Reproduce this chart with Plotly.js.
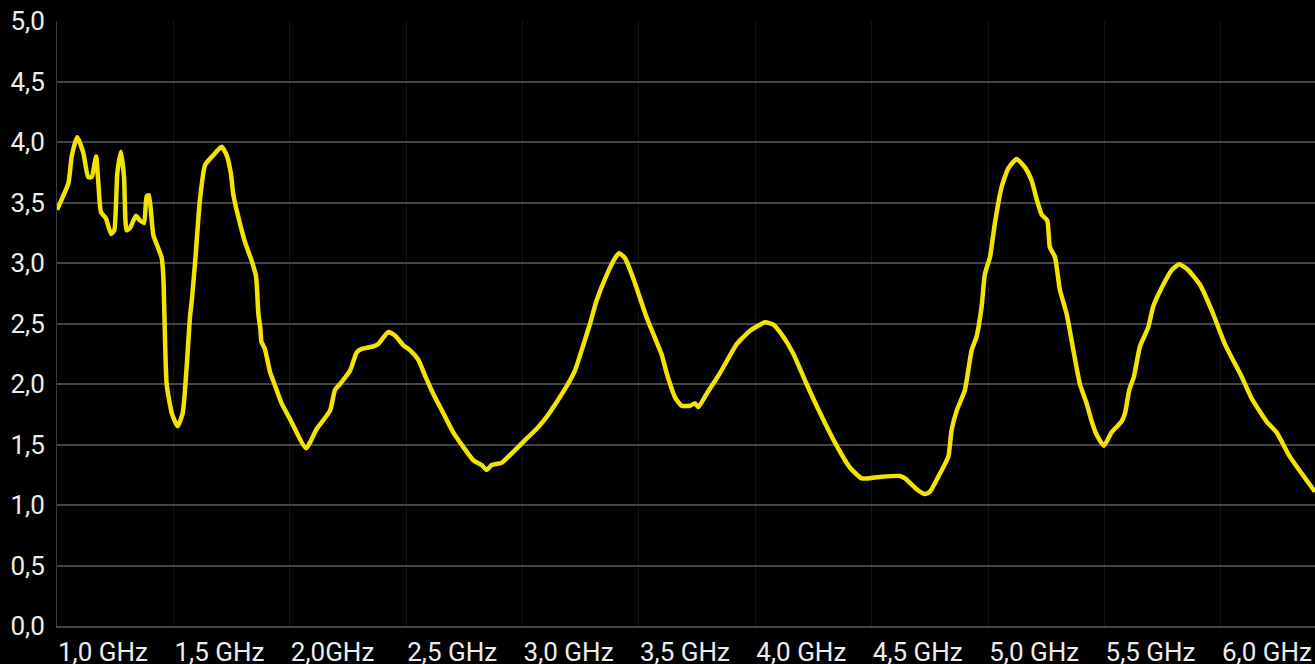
<!DOCTYPE html>
<html>
<head>
<meta charset="utf-8">
<script src="https://cdn.plot.ly/plotly-3.0.1.min.js"></script>
<style>
html,body{margin:0;padding:0;background:#000;}
#chart{width:1315px;height:664px;}
</style>
</head>
<body>
<div id="chart"></div>
<script>
// Frequency (GHz) and measured value
const freqGHz = [
1.000,1.049,1.063,1.087,1.113,1.134,1.149,1.168,1.177,1.189,1.210,1.232,1.246,1.259,1.275,1.288,1.299,1.314,1.339,1.357,1.374,1.385,1.395,1.407,1.414,1.450,1.457,1.471,1.493,1.518,1.540,1.557,1.571,1.579,1.593,1.614,1.636,1.671,1.707,1.729,1.747,1.757,1.779,1.808,1.836,1.855,1.865,1.874,1.878,1.893,1.915,1.936,1.965,2.001,2.070,2.116,2.173,2.194,2.216,2.259,2.287,2.309,2.359,2.380,2.423,2.452,2.488,2.516,2.552,2.581,2.616,2.659,2.702,2.745,2.788,2.824,2.846,2.867,2.910,2.960,3.018,3.061,3.104,3.146,3.189,3.225,3.254,3.290,3.318,3.361,3.397,3.415,3.440,3.476,3.533,3.598,3.619,3.655,3.683,3.719,3.741,3.755,3.791,3.848,3.920,3.977,4.041,4.077,4.120,4.163,4.220,4.278,4.349,4.406,4.457,4.521,4.621,4.643,4.693,4.729,4.750,4.793,4.829,4.843,4.865,4.900,4.929,4.950,4.972,4.986,5.008,5.029,5.058,5.086,5.122,5.158,5.187,5.208,5.230,5.254,5.265,5.287,5.308,5.337,5.366,5.394,5.423,5.445,5.466,5.497,5.530,5.573,5.588,5.606,5.626,5.652,5.688,5.709,5.752,5.788,5.821,5.860,5.910,5.960,6.017,6.089,6.132,6.196,6.239,6.296,6.404
];
const values = [
3.44,3.66,3.88,4.04,3.91,3.71,3.71,3.88,3.68,3.42,3.37,3.24,3.27,3.74,3.92,3.71,3.27,3.29,3.39,3.35,3.33,3.55,3.56,3.35,3.23,3.04,2.88,2.00,1.76,1.65,1.76,2.14,2.55,2.69,3.00,3.52,3.81,3.89,3.96,3.89,3.74,3.57,3.38,3.17,3.02,2.89,2.58,2.45,2.35,2.29,2.10,1.99,1.84,1.71,1.47,1.63,1.78,1.95,2.00,2.11,2.26,2.29,2.31,2.33,2.43,2.40,2.32,2.28,2.20,2.07,1.92,1.76,1.60,1.48,1.37,1.33,1.29,1.33,1.35,1.44,1.55,1.63,1.73,1.85,1.98,2.11,2.28,2.50,2.69,2.90,3.04,3.08,3.04,2.87,2.55,2.24,2.09,1.89,1.82,1.82,1.84,1.81,1.92,2.09,2.33,2.44,2.51,2.49,2.39,2.25,2.00,1.76,1.49,1.31,1.22,1.23,1.24,1.22,1.13,1.09,1.11,1.26,1.40,1.62,1.78,1.95,2.28,2.39,2.64,2.91,3.05,3.33,3.63,3.78,3.86,3.79,3.68,3.53,3.40,3.35,3.13,3.05,2.78,2.58,2.28,2.00,1.84,1.69,1.58,1.49,1.60,1.69,1.76,1.95,2.06,2.31,2.47,2.64,2.82,2.94,2.99,2.94,2.82,2.61,2.33,2.06,1.88,1.69,1.60,1.40,1.11
];
const tickPositions = [1.0,1.5,2.0,2.5,3.0,3.5,4.0,4.5,5.0,5.5,6.0];
const tickLabels = ["1,0 GHz","1,5 GHz","2,0GHz","2,5 GHz","3,0 GHz","3,5 GHz","4,0 GHz","4,5 GHz","5,0 GHz","5,5 GHz","6,0 GHz"];

const trace = {
  x: freqGHz, y: values, type: 'scatter', mode: 'lines',
  line: {color: '#f2e300', width: 4.5, shape: 'spline', smoothing: 0.5},
  hoverinfo: 'skip'
};
const layout = {
  width: 1315, height: 664,
  paper_bgcolor: '#000', plot_bgcolor: '#000',
  margin: {l: 57, r: 0, t: 21, b: 38, pad: 0},
  separators: ',.',
  showlegend: false,
  font: {family: 'Roboto, sans-serif', size: 26, color: '#ececec'},
  xaxis: {
    range: [1.0, 6.404], tickmode: 'array', tickvals: tickPositions, ticktext: tickLabels,
    ticklabelposition: 'outside right', ticks: '', ticklabelstandoff: 2,
    showgrid: true, gridcolor: '#141414', gridwidth: 1,
    zeroline: false, showline: true, linecolor: '#454545', linewidth: 2,
    tickfont: {family: 'Roboto, sans-serif', size: 26, color: '#ececec'}, fixedrange: true
  },
  yaxis: {
    range: [0, 5], tickmode: 'linear', tick0: 0, dtick: 0.5, tickformat: '.1f',
    ticks: '', ticklabelstandoff: 6, showgrid: true, gridcolor: '#454545', gridwidth: 2, zeroline: false,
    showline: true, linecolor: '#3a3a3a', linewidth: 1,
    tickfont: {family: 'Roboto, sans-serif', size: 26, color: '#ececec'}, fixedrange: true
  }
};
Plotly.newPlot('chart', [trace], layout, {displayModeBar: false, staticPlot: true});
</script>
</body>
</html>
